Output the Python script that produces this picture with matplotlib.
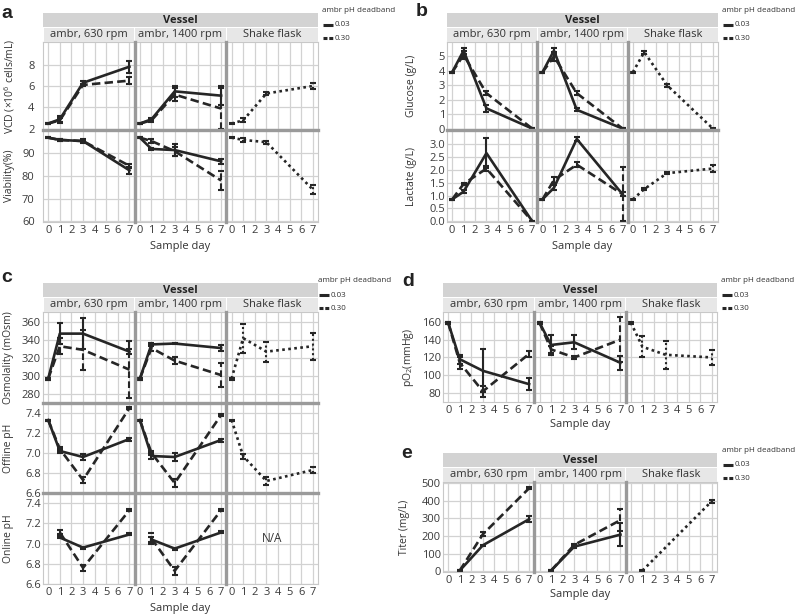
import matplotlib.pyplot as plt
from matplotlib.lines import Line2D
from matplotlib.patches import Rectangle
from matplotlib.ticker import FormatStrFormatter

plt.rcParams['font.family'] = ['Open Sans', 'DejaVu Sans']
plt.rcParams['mathtext.fontset'] = 'custom'
plt.rcParams['mathtext.rm'] = 'Open Sans'

# ---- data ----
vessels = ["ambr, 630 rpm", "ambr, 1400 rpm", "Shake flask"]
deadbands = ["0.03", "0.30"]
day_ticks = list(range(8))
days = [0, 1, 3, 7]
days_late = [1, 3, 7]

vcd = {"ambr, 630 rpm": {"0.03": [2.5, 2.9, 6.3, 7.8], "0.30": [2.5, 2.8, 6.1, 6.5]},
       "ambr, 1400 rpm": {"0.03": [2.5, 2.9, 5.5, 5.1], "0.30": [2.5, 2.8, 5.2, 3.9]},
       "Shake flask": {"sf": [2.5, 2.8, 5.3, 6.0]}}
vcd_sd = {"ambr, 630 rpm": {"0.03": [0.05, 0.3, 0.15, 0.55], "0.30": [0.05, 0.25, 0.1, 0.3]},
          "ambr, 1400 rpm": {"0.03": [0.05, 0.15, 0.5, 0.9], "0.30": [0.05, 0.15, 0.6, 1.95]},
          "Shake flask": {"sf": [0.05, 0.2, 0.1, 0.3]}}

viab = {"ambr, 630 rpm": {"0.03": [97, 96, 95.5, 82.5], "0.30": [97, 96, 95.5, 84.5]},
        "ambr, 1400 rpm": {"0.03": [97, 92, 91.5, 86.5], "0.30": [97, 95.5, 91, 78]},
        "Shake flask": {"sf": [97, 96, 95, 74]}}
viab_sd = {"ambr, 630 rpm": {"0.03": [0.3, 0.5, 0.8, 1.5], "0.30": [0.3, 0.5, 0.5, 1.0]},
           "ambr, 1400 rpm": {"0.03": [0.3, 0.6, 2.5, 1.0], "0.30": [0.3, 0.8, 2.0, 4.0]},
           "Shake flask": {"sf": [0.3, 1.0, 0.6, 1.8]}}

gluc = {"ambr, 630 rpm": {"0.03": [3.9, 5.4, 1.4, 0.0], "0.30": [3.9, 5.1, 2.45, 0.0]},
        "ambr, 1400 rpm": {"0.03": [3.9, 5.4, 1.3, 0.0], "0.30": [3.9, 5.0, 2.45, 0.0]},
        "Shake flask": {"sf": [3.9, 5.3, 3.0, 0.0]}}
gluc_sd = {"ambr, 630 rpm": {"0.03": [0.05, 0.2, 0.25, 0.03], "0.30": [0.05, 0.3, 0.15, 0.03]},
           "ambr, 1400 rpm": {"0.03": [0.05, 0.2, 0.1, 0.03], "0.30": [0.05, 0.3, 0.15, 0.03]},
           "Shake flask": {"sf": [0.05, 0.1, 0.1, 0.03]}}

lact = {"ambr, 630 rpm": {"0.03": [0.85, 1.15, 2.65, 0.0], "0.30": [0.85, 1.45, 2.05, 0.0]},
        "ambr, 1400 rpm": {"0.03": [0.85, 1.3, 3.2, 1.05], "0.30": [0.85, 1.6, 2.2, 1.05]},
        "Shake flask": {"sf": [0.85, 1.25, 1.87, 2.05]}}
lact_sd = {"ambr, 630 rpm": {"0.03": [0.03, 0.05, 0.58, 0.02], "0.30": [0.03, 0.05, 0.1, 0.02]},
           "ambr, 1400 rpm": {"0.03": [0.03, 0.1, 0.08, 0.08], "0.30": [0.03, 0.12, 0.1, 1.05]},
           "Shake flask": {"sf": [0.02, 0.03, 0.03, 0.12]}}

osmo = {"ambr, 630 rpm": {"0.03": [297, 347, 347, 327], "0.30": [297, 333, 329, 307]},
        "ambr, 1400 rpm": {"0.03": [297, 335, 336, 331], "0.30": [297, 331, 317, 301]},
        "Shake flask": {"sf": [297, 342, 327, 333]}}
osmo_sd = {"ambr, 630 rpm": {"0.03": [1, 12, 17, 3], "0.30": [1, 9, 22, 32]},
           "ambr, 1400 rpm": {"0.03": [1, 2, 1, 3], "0.30": [1, 3, 4, 13]},
           "Shake flask": {"sf": [1, 16, 11, 15]}}

ph_off = {"ambr, 630 rpm": {"0.03": [7.33, 7.02, 6.96, 7.14], "0.30": [7.33, 7.04, 6.73, 7.45]},
          "ambr, 1400 rpm": {"0.03": [7.33, 6.97, 6.96, 7.13], "0.30": [7.33, 7.0, 6.70, 7.38]},
          "Shake flask": {"sf": [7.33, 6.97, 6.72, 6.83]}}
ph_off_sd = {"ambr, 630 rpm": {"0.03": [0.005, 0.02, 0.03, 0.015], "0.30": [0.005, 0.02, 0.03, 0.01]},
             "ambr, 1400 rpm": {"0.03": [0.005, 0.03, 0.04, 0.015], "0.30": [0.005, 0.02, 0.035, 0.01]},
             "Shake flask": {"sf": [0.005, 0.025, 0.04, 0.03]}}

ph_on = {"ambr, 630 rpm": {"0.03": [7.06, 6.96, 7.09], "0.30": [7.11, 6.76, 7.33]},
         "ambr, 1400 rpm": {"0.03": [7.04, 6.95, 7.11], "0.30": [7.05, 6.73, 7.33]},
         "Shake flask": {}}
ph_on_sd = {"ambr, 630 rpm": {"0.03": [0.01, 0.01, 0.01], "0.30": [0.02, 0.03, 0.01]},
            "ambr, 1400 rpm": {"0.03": [0.02, 0.01, 0.01], "0.30": [0.05, 0.04, 0.01]},
            "Shake flask": {}}

po2 = {"ambr, 630 rpm": {"0.03": [159, 118, 105, 90], "0.30": [159, 114, 82, 124]},
       "ambr, 1400 rpm": {"0.03": [159, 134, 137, 114], "0.30": [159, 129, 120, 140]},
       "Shake flask": {"sf": [159, 132, 123, 120]}}
po2_sd = {"ambr, 630 rpm": {"0.03": [1, 5, 24, 7], "0.30": [1, 7, 6, 3]},
          "ambr, 1400 rpm": {"0.03": [1, 11, 8, 8], "0.30": [1, 4, 2, 25]},
          "Shake flask": {"sf": [1, 12, 16, 8]}}

titer = {"ambr, 630 rpm": {"0.03": [5, 148, 295], "0.30": [5, 210, 470]},
         "ambr, 1400 rpm": {"0.03": [5, 140, 208], "0.30": [5, 150, 290]},
         "Shake flask": {"sf": [5, 397]}}
titer_sd = {"ambr, 630 rpm": {"0.03": [2, 4, 17], "0.30": [2, 10, 7]},
            "ambr, 1400 rpm": {"0.03": [2, 10, 63], "0.30": [2, 5, 62]},
            "Shake flask": {"sf": [2, 8]}}
titer_days = {"ambr, 630 rpm": days_late, "ambr, 1400 rpm": days_late, "Shake flask": [1, 7]}

# ---- drawing ----
W, H = 800, 615
fig = plt.figure(figsize=(W / 100, H / 100), dpi=100)
INK = "#262626"
SEP = "#9a9a9a"
styles = {"0.03": "-", "0.30": (0, (3.2, 1.6)), "sf": (0, (1.0, 1.3))}


def box(l, t, r, b):
    return [l / W, 1 - b / H, (r - l) / W, (b - t) / H]


def fline(xs, ys, **kw):
    fig.add_artist(Line2D([x / W for x in xs], [1 - y / H for y in ys], **kw))


def ftext(x, y, s, **kw):
    fig.text(x / W, 1 - y / H, s, **kw)


def legend(x, y):
    ftext(x, y, "ambr pH deadband", fontsize=5.8, va="center", color="#333333")
    for i, db in enumerate(deadbands):
        yy = y + 15 + 13 * i
        fline([x + 1, x + 11], [yy, yy], color=INK, lw=2.2,
              ls="-" if db == "0.03" else (0, (1.3, 0.6)), solid_capstyle="butt", dash_capstyle="butt")
        ftext(x + 12.5, yy, db, fontsize=5.8, va="center", color="#333333")


def draw_panel(label, lab_xy, left, right, strip_top, rows, ylab_x, xlab_y, leg_x, ypad):
    plot_top = rows[0][7]
    plot_bot = rows[-1][8]
    colw = (right - left) / 3
    # strips
    fig.add_artist(Rectangle((left / W, 1 - (strip_top + 14) / H), (right - left) / W, 14 / H,
                             transform=fig.transFigure, color="#d3d3d3", lw=0))
    ftext((left + right) / 2, strip_top + 7.5, "Vessel", fontsize=8, fontweight="bold",
          ha="center", va="center", color="#222222")
    for j, v in enumerate(vessels):
        l = left + j * colw
        fig.add_artist(Rectangle(((l + 0.5) / W, 1 - plot_top / H), (colw - 1) / W, (plot_top - strip_top - 14.5) / H,
                                 transform=fig.transFigure, color="#e7e7e7", lw=0))
        ftext(l + colw / 2, (strip_top + 14 + plot_top) / 2, v, fontsize=8, ha="center", va="center",
              color="#333333")
    for i, (mean, sd, dd, ylim, yticks, fmt, ylab, top, bot) in enumerate(rows):
        for j, v in enumerate(vessels):
            ax = fig.add_axes(box(left + j * colw, top, left + (j + 1) * colw, bot))
            ax.set_xlim(-0.45, 7.45)
            ax.set_ylim(*ylim)
            ax.set_xticks(day_ticks)
            ax.set_yticks(yticks)
            ax.yaxis.set_major_formatter(FormatStrFormatter(fmt))
            ax.grid(which="major", color="#d2d2d2", lw=0.9)
            ax.set_axisbelow(True)
            ax.tick_params(which="both", length=0, labelsize=8, colors="#3a3a3a", pad=2.5,
                           labelleft=(j == 0), labelbottom=(i == len(rows) - 1))
            ax.tick_params(axis="y", pad=ypad)
            for sp in ax.spines.values():
                sp.set_color("#c8c8c8")
                sp.set_linewidth(0.8)
            if not mean[v]:
                ax.text(3.5, sum(ylim) / 2, "N/A", ha="center", va="center", fontsize=8.5, color="#333333")
            for key in ["0.30", "0.03", "sf"]:
                if key not in mean[v]:
                    continue
                ls = styles[key]
                _, _, bars = ax.errorbar(dd[v], mean[v][key], yerr=sd[v][key], color=INK, lw=1.9, ls=ls,
                                         elinewidth=1.5, capsize=2.3, capthick=1.5)
                bars[0].set_linestyle(ls)
        ftext(ylab_x, (top + bot) / 2, ylab, fontsize=7.5, rotation=90, ha="center", va="center",
              color="#333333")
        if i > 0:
            fline([left, right], [top, top], color=SEP, lw=2.4)
    for j in (1, 2):
        x = left + j * colw
        fline([x, x], [plot_top, plot_bot], color=SEP, lw=2.4)
    ftext((left + right) / 2, xlab_y, "Sample day", fontsize=8, ha="center", va="center", color="#333333")
    ftext(lab_xy[0], lab_xy[1], label, fontsize=14, fontweight="bold", family="Liberation Sans",
          ha="center", va="center", color="#222222")
    legend(leg_x, strip_top - 3)


d_all = {v: days for v in vessels}
d_late = {v: days_late for v in vessels}

draw_panel("a", (7, 13), 43, 318, 13, [
    (vcd, vcd_sd, d_all, (1.9, 10.1), [2, 4, 6, 8], "%d", "VCD (×10$^6$ cells/mL)", 42, 130),
    (viab, viab_sd, d_all, (59.6, 100.4), [60, 70, 80, 90], "%d", "Viability(%)", 130, 222),
], 10, 247, 322, 6)

draw_panel("b", (422, 12), 447, 718, 13, [
    (gluc, gluc_sd, d_all, (-0.1, 6.0), [0, 1, 2, 3, 4, 5], "%d", "Glucose (g/L)", 42, 130),
    (lact, lact_sd, d_all, (-0.03, 3.55), [0, 0.5, 1, 1.5, 2, 2.5, 3], "%.1f", "Lactate (g/L)", 130, 222),
], 411, 247, 722, 1.5)

draw_panel("c", (7, 277), 43, 318, 283, [
    (osmo, osmo_sd, d_all, (270, 371), [280, 300, 320, 340, 360], "%d", "Osmolality (mOsm)", 312, 403),
    (ph_off, ph_off_sd, d_all, (6.6, 7.5), [6.6, 6.8, 7.0, 7.2, 7.4], "%.1f", "Offline pH", 403, 493),
    (ph_on, ph_on_sd, d_late, (6.6, 7.5), [6.6, 6.8, 7.0, 7.2, 7.4], "%.1f", "Online pH", 493, 584),
], 9, 608, 318, 1.5)

draw_panel("d", (408, 281), 443, 717, 283, [
    (po2, po2_sd, d_all, (70, 171), [80, 100, 120, 140, 160], "%d", "pO$_2$(mmHg)", 312, 402),
], 408, 425, 721, 1.5)

draw_panel("e", (407, 454), 443, 717, 453, [
    (titer, titer_sd, titer_days, (-3, 505), [0, 100, 200, 300, 400, 500], "%d", "Titer (mg/L)", 482, 572),
], 405, 595, 722, 1.5)

fig.savefig("out.png", dpi=100)
